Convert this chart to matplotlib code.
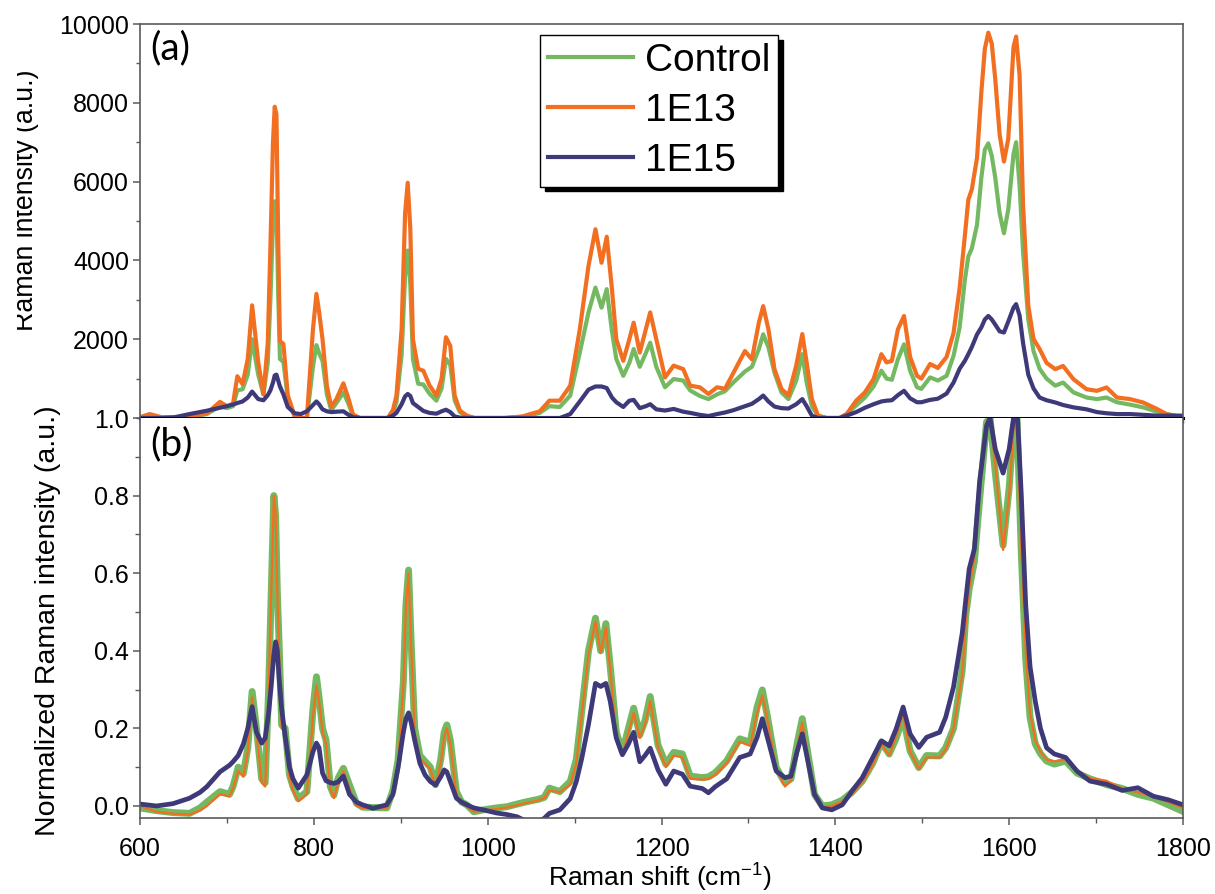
import matplotlib
matplotlib.use('Agg')
import matplotlib.pyplot as plt
from matplotlib.ticker import MultipleLocator, FixedLocator, NullFormatter
from matplotlib.patches import Rectangle

plt.rcParams['font.family'] = ['Liberation Sans', 'DejaVu Sans']
plt.rcParams['mathtext.fontset'] = 'custom'
plt.rcParams['mathtext.rm'] = 'Liberation Sans'

# ---------------- data ----------------
series_names = ['Control', '1E13', '1E15']
colors = ['#74b961', '#f26f21', '#3e3a7a']

# panel (a): raw Raman intensity
top_shift = [600, 611, 625, 640, 657, 677, 692, 700, 707, 712, 718, 724, 729, 736, 742, 747, 750, 753, 755, 757,
             759, 761, 765, 770, 778, 785, 792, 799, 803, 806, 810, 815, 820, 826, 834, 840, 845, 853, 870, 885,
             891, 895, 901, 905, 908, 911, 914, 920, 926, 933, 941, 947, 952, 957, 962, 968, 976, 985, 1000, 1020,
             1040, 1060, 1071, 1083, 1095, 1106, 1116, 1124, 1131, 1137, 1143, 1148, 1156, 1163, 1168, 1175, 1182,
             1187, 1194, 1204, 1214, 1225, 1233, 1244, 1254, 1264, 1273, 1283, 1296, 1304, 1312, 1317, 1323, 1330,
             1338, 1346, 1355, 1362, 1367, 1373, 1380, 1390, 1405, 1413, 1424, 1434, 1444, 1453, 1459, 1465, 1472,
             1479, 1486, 1494, 1499, 1509, 1518, 1528, 1536, 1543, 1549, 1553, 1557, 1563, 1568, 1572, 1576, 1580,
             1584, 1589, 1594, 1599, 1605, 1608, 1612, 1616, 1622, 1628, 1635, 1643, 1653, 1662, 1674, 1689, 1701,
             1712, 1724, 1739, 1754, 1770, 1781, 1796, 1800]

top_control = [10, 30, 10, 0, 20, 100, 300, 250, 300, 700, 730, 1100, 2000, 1100, 600, 1400, 3000, 4900, 5500, 5400,
               3150, 1500, 1420, 500, 30, 0, 0, 1300, 1850, 1650, 1450, 600, 200, 380, 650, 350, 60, 0, 0, 0,
               150, 400, 1600, 3600, 4250, 3400, 1500, 870, 850, 620, 440, 750, 1500, 1350, 450, 150, 40, 0, 0, 0,
               30, 130, 300, 280, 570, 1660, 2680, 3310, 2800, 3270, 2200, 1500, 1070, 1400, 1750, 1300, 1650,
               1910, 1300, 780, 990, 950, 700, 560, 480, 600, 680, 910, 1180, 1300, 1750, 2125, 1800, 1150,
               650, 480, 950, 1620, 900, 300, 60, 0, 0, 100, 320, 520, 800, 1200, 1000, 970, 1490,
               1870, 1200, 780, 740, 1030, 950, 1070, 1580, 2300, 3500, 4100, 4300, 4900, 6100, 6810, 6970, 6650,
               6100, 5200, 4690, 5300, 6700, 7000, 5900, 4200, 2500, 1700, 1250, 1000, 820, 900, 650, 520, 480,
               520, 400, 340, 270, 160, 100, 40, 30]

top_1e13 = [20, 100, 20, 10, 30, 120, 410, 300, 360, 1060, 860, 1500, 2860, 1420, 600, 1900, 4300, 7000, 7900, 7700,
            4500, 1950, 1880, 580, 40, 0, 0, 2250, 3150, 2700, 2000, 820, 280, 480, 880, 480, 90, 0, 0, 0,
            200, 560, 2250, 5200, 5970, 4800, 2000, 1250, 1200, 830, 570, 1000, 2050, 1830, 570, 190, 60, 0, 0, 0,
            40, 170, 440, 440, 820, 2250, 3860, 4790, 3940, 4600, 3270, 2000, 1450, 2000, 2420, 1660, 2250,
            2680, 2000, 1030, 1330, 1240, 820, 780, 610, 780, 740, 1160, 1700, 1490, 2420, 2840, 2250, 1240,
            740, 570, 1330, 2130, 1410, 480, 60, 0, 0, 100, 440, 650, 990, 1620, 1410, 1450, 2250,
            2590, 1550, 1070, 1000, 1370, 1270, 1550, 2160, 3300, 4620, 5540, 5800, 6600, 8270, 9370, 9780, 9500,
            8600, 7200, 6510, 7090, 9420, 9680, 8700, 5400, 2850, 2010, 1750, 1400, 1240, 1320, 985, 730, 690,
            775, 520, 480, 395, 230, 100, 30, 30]

top_1e15 = [0, 0, 0, 20, 100, 185, 260, 300, 340, 380, 420, 520, 670, 480, 450, 580, 700, 900, 1080, 1100,
            950, 800, 600, 280, 120, 100, 170, 330, 420, 350, 220, 170, 150, 160, 170, 80, 20, 0, 0, 0,
            60, 130, 350, 550, 610, 560, 380, 280, 180, 130, 110, 170, 210, 150, 40, 10, 0, 0, 0, 0,
            0, 0, 0, 0, 100, 420, 720, 800, 800, 760, 520, 400, 280, 440, 460, 250, 300,
            350, 220, 190, 230, 160, 130, 80, 50, 100, 140, 200, 300, 360, 480, 570, 420, 290,
            250, 240, 350, 480, 300, 60, 0, 0, 0, 60, 150, 260, 350, 420, 440, 450, 580,
            690, 500, 400, 400, 460, 490, 620, 900, 1250, 1450, 1620, 1800, 2120, 2300, 2500, 2590, 2500,
            2370, 2200, 2170, 2450, 2800, 2890, 2600, 1900, 1100, 750, 520, 450, 395, 330, 270, 220, 150,
            120, 100, 100, 80, 60, 60, 60, 60]

# panel (b): normalized Raman intensity
bot_shift = [600, 619, 638, 657, 669, 677, 692, 703, 707, 713, 719, 724, 729, 734, 740, 744, 748, 751, 754, 756,
             758, 760, 763, 767, 772, 776, 782, 792, 799, 803, 806, 810, 814, 819, 823, 828, 834, 841, 849, 856,
             868, 884, 891, 897, 903, 906, 909, 912, 916, 922, 928, 934, 940, 946, 950, 953, 957, 964, 970, 976,
             984, 995, 1010, 1022, 1034, 1045, 1058, 1065, 1071, 1083, 1095, 1102, 1108, 1116, 1124, 1130, 1136,
             1141, 1148, 1155, 1162, 1168, 1175, 1181, 1187, 1196, 1205, 1214, 1224, 1233, 1247, 1254, 1262, 1275,
             1290, 1302, 1310, 1316, 1322, 1332, 1342, 1349, 1356, 1362, 1368, 1376, 1385, 1396, 1408, 1419, 1431,
             1443, 1453, 1462, 1470, 1478, 1486, 1496, 1505, 1520, 1527, 1536, 1546, 1550, 1554, 1560, 1566, 1574,
             1578, 1584, 1593, 1600, 1605, 1609, 1614, 1619, 1624, 1630, 1636, 1643, 1652, 1665, 1678, 1693, 1712,
             1730, 1748, 1766, 1783, 1800]

bot_control = [-0.005, -0.012, -0.017, -0.019, -0.005, 0.01, 0.037, 0.03, 0.05, 0.1, 0.084, 0.15, 0.295, 0.2, 0.07,
               0.06, 0.3, 0.55, 0.8, 0.75, 0.55, 0.42, 0.209, 0.2, 0.08, 0.05, 0.019, 0.037, 0.25, 0.333, 0.28,
               0.2, 0.17, 0.05, 0.028, 0.072, 0.097, 0.054, 0.007, -0.003, -0.004, -0.005, 0.04, 0.12, 0.32, 0.52,
               0.608, 0.42, 0.2, 0.13, 0.115, 0.1, 0.055, 0.12, 0.19, 0.209, 0.17, 0.037, 0.01, 0.003, -0.015,
               -0.01, -0.005, -0.002, 0.005, 0.011, 0.017, 0.022, 0.046, 0.037, 0.063, 0.12, 0.24, 0.4, 0.484, 0.4,
               0.47, 0.36, 0.19, 0.14, 0.2, 0.252, 0.183, 0.22, 0.282, 0.157, 0.108, 0.138, 0.134, 0.077, 0.073,
               0.075, 0.086, 0.116, 0.173, 0.164, 0.255, 0.299, 0.229, 0.099, 0.06, 0.07, 0.16, 0.225, 0.142, 0.03,
               0.0, 0.003, 0.015, 0.035, 0.064, 0.11, 0.164, 0.134, 0.175, 0.229, 0.142, 0.099, 0.13, 0.129, 0.15,
               0.2, 0.35, 0.49, 0.56, 0.63, 0.79, 0.99, 1.0, 0.86, 0.672, 0.82, 0.98, 1.0, 0.65, 0.38, 0.229, 0.16,
               0.135, 0.116, 0.108, 0.116, 0.085, 0.07, 0.055, 0.045, 0.03, 0.02, 0.003, -0.014]

bot_1e13 = [0.0, -0.015, -0.02, -0.022, -0.012, 0.0, 0.03, 0.025, 0.045, 0.09, 0.075, 0.14, 0.28, 0.19, 0.06,
            0.05, 0.3, 0.55, 0.8, 0.76, 0.55, 0.4, 0.2, 0.19, 0.07, 0.04, 0.012, 0.03, 0.23, 0.31, 0.27,
            0.19, 0.16, 0.045, 0.02, 0.06, 0.09, 0.045, 0.0, -0.005, -0.006, -0.006, 0.035, 0.11, 0.31, 0.52,
            0.6, 0.41, 0.19, 0.12, 0.11, 0.095, 0.05, 0.11, 0.18, 0.2, 0.16, 0.03, 0.005, 0.0, -0.015,
            -0.012, -0.008, -0.004, 0.002, 0.008, 0.014, 0.02, 0.04, 0.035, 0.055, 0.11, 0.23, 0.39, 0.475, 0.395,
            0.46, 0.35, 0.18, 0.13, 0.19, 0.24, 0.175, 0.21, 0.27, 0.15, 0.1, 0.13, 0.125, 0.07, 0.068,
            0.07, 0.08, 0.11, 0.165, 0.155, 0.24, 0.285, 0.22, 0.095, 0.05, 0.065, 0.15, 0.215, 0.135, 0.025,
            -0.003, 0.0, 0.012, 0.03, 0.06, 0.105, 0.16, 0.13, 0.18, 0.235, 0.14, 0.095, 0.125, 0.125, 0.145,
            0.2, 0.34, 0.47, 0.56, 0.64, 0.82, 0.99, 1.0, 0.88, 0.66, 0.8, 0.97, 0.99, 0.66, 0.4, 0.24, 0.17,
            0.14, 0.12, 0.115, 0.12, 0.09, 0.072, 0.065, 0.045, 0.035, 0.025, 0.01, -0.005]

bot_1e15 = [0.005, 0.0, 0.006, 0.02, 0.035, 0.05, 0.088, 0.105, 0.114, 0.13, 0.16, 0.2, 0.256, 0.19, 0.162,
            0.175, 0.24, 0.31, 0.39, 0.423, 0.4, 0.33, 0.25, 0.18, 0.1, 0.07, 0.046, 0.08, 0.14, 0.162, 0.15,
            0.085, 0.065, 0.06, 0.058, 0.062, 0.077, 0.03, 0.01, 0.003, -0.006, 0.003, 0.03, 0.1, 0.19, 0.225,
            0.24, 0.215, 0.17, 0.11, 0.08, 0.063, 0.054, 0.075, 0.093, 0.088, 0.063, 0.02, 0.01, 0.003, -0.005,
            -0.01, -0.018, -0.022, -0.028, -0.04, -0.04, -0.032, -0.019, -0.01, 0.019, 0.063, 0.12, 0.21, 0.316,
            0.308, 0.316, 0.27, 0.175, 0.132, 0.16, 0.19, 0.114, 0.13, 0.149, 0.093, 0.056, 0.09, 0.082, 0.051,
            0.045, 0.034, 0.05, 0.07, 0.125, 0.134, 0.177, 0.225, 0.175, 0.09, 0.073, 0.077, 0.14, 0.186, 0.12,
            0.03, -0.005, -0.01, 0.003, 0.038, 0.073, 0.125, 0.168, 0.155, 0.199, 0.255, 0.186, 0.151, 0.177,
            0.19, 0.229, 0.307, 0.446, 0.53, 0.611, 0.663, 0.837, 0.98, 1.0, 0.92, 0.858, 0.92, 1.0, 1.03, 0.8,
            0.52, 0.36, 0.27, 0.2, 0.15, 0.134, 0.125, 0.09, 0.064, 0.056, 0.04, 0.047, 0.025, 0.016, 0.003]

x_major_ticks = [600, 800, 1000, 1200, 1400, 1600, 1800]
top_y_ticks = [2000, 4000, 6000, 8000, 10000]
bot_y_ticks = [0.0, 0.2, 0.4, 0.6, 0.8, 1.0]

# ---------------- figure ----------------
W, H = 1215, 894
fig = plt.figure(figsize=(W / 100, H / 100), dpi=100)
ax1 = fig.add_axes([140 / W, 1 - 418 / H, 1043 / W, 394 / H])
ax2 = fig.add_axes([140 / W, 1 - 818 / H, 1043 / W, 400 / H])

spine_c = '#5a5a5a'

top_vals = [top_control, top_1e13, top_1e15]
handles = []
for name, vals, c in zip(series_names, top_vals, colors):
    ln, = ax1.plot(top_shift, vals, color=c, lw=3.0, label=name, solid_joinstyle='round')
    handles.append(ln)

bot_vals = [bot_control, bot_1e13, bot_1e15]
bot_lw = [5.0, 1.6, 3.4]
for vals, c, lw in zip(bot_vals, colors, bot_lw):
    ax2.plot(bot_shift, vals, color=c, lw=lw, solid_joinstyle='round')

for ax in (ax1, ax2):
    ax.set_xlim(600, 1800)
    for s in ax.spines.values():
        s.set_color(spine_c)
        s.set_linewidth(1.2)

ax1.set_ylim(0, 10000)
ax2.set_ylim(-0.031, 1.0)

ax1.spines['bottom'].set_color('black')
ax1.spines['bottom'].set_linewidth(2.2)
ax2.spines['top'].set_visible(False)

# ticks panel (a)
ax1.yaxis.set_major_locator(FixedLocator(top_y_ticks))
ax1.yaxis.set_minor_locator(MultipleLocator(1000))
ax1.xaxis.set_major_locator(MultipleLocator(100))
ax1.xaxis.set_major_formatter(NullFormatter())
ax1.tick_params(axis='y', which='major', direction='out', length=5, width=1.1, color=spine_c,
                labelsize=18, pad=3)
ax1.tick_params(axis='y', which='minor', direction='out', length=3, width=1.0, color=spine_c)
ax1.tick_params(axis='x', which='major', direction='out', length=3.5, width=1.0, color=spine_c)

# ticks panel (b)
ax2.xaxis.set_major_locator(FixedLocator(x_major_ticks))
ax2.xaxis.set_minor_locator(MultipleLocator(100))
ax2.yaxis.set_major_locator(FixedLocator(bot_y_ticks))
ax2.yaxis.set_minor_locator(MultipleLocator(0.1))
ax2.yaxis.set_major_formatter(plt.FuncFormatter(lambda v, p: f'{v:.1f}'))
ax2.tick_params(axis='both', which='major', direction='out', length=5, width=1.1, color=spine_c,
                labelsize=18, pad=3)
ax2.tick_params(axis='x', which='major', pad=9)
ax2.tick_params(axis='both', which='minor', direction='out', length=3.5, width=1.0, color=spine_c)

# labels
fig.text(660 / W, 1 - 877 / H, 'Raman shift (cm$^{-1}$)', fontsize=19, ha='center', va='center')
fig.text(55 / W, 1 - 621 / H, 'Normalized Raman intensity (a.u.)', fontsize=20.5, rotation=90,
         rotation_mode='anchor', ha='center', va='baseline')
fig.text(33 / W, 1 - 200 / H, 'Raman intensity (a.u.)', fontsize=19.3, rotation=90,
         rotation_mode='anchor', ha='center', va='baseline')
# the reference has the left edge of the upper y label cut off
fig.patches.append(Rectangle((0, 1 - 350 / H), 16.5 / W, 300 / H, transform=fig.transFigure,
                             facecolor='white', edgecolor='none', zorder=10))

fig.text(150 / W, 1 - 48 / H, '(a)', fontsize=28, family=['Lato', 'DejaVu Sans'], ha='left', va='center')
fig.text(150 / W, 1 - 444 / H, '(b)', fontsize=28, family=['Lato', 'DejaVu Sans'], ha='left', va='center')

leg = ax1.legend(handles=handles, loc='upper left', bbox_to_anchor=(540 / W, 1 - 35 / H),
                 bbox_transform=fig.transFigure, borderaxespad=0, fontsize=28, frameon=True,
                 fancybox=False, framealpha=1, edgecolor='black', handlelength=2.2,
                 handletextpad=0.3, borderpad=0.2, labelspacing=0.36,
                 shadow={'ox': 3.5, 'oy': -3.5, 'facecolor': 'black', 'edgecolor': 'black', 'alpha': 1.0})
leg.get_frame().set_linewidth(1.0)

fig.savefig('out.png', dpi=100)
